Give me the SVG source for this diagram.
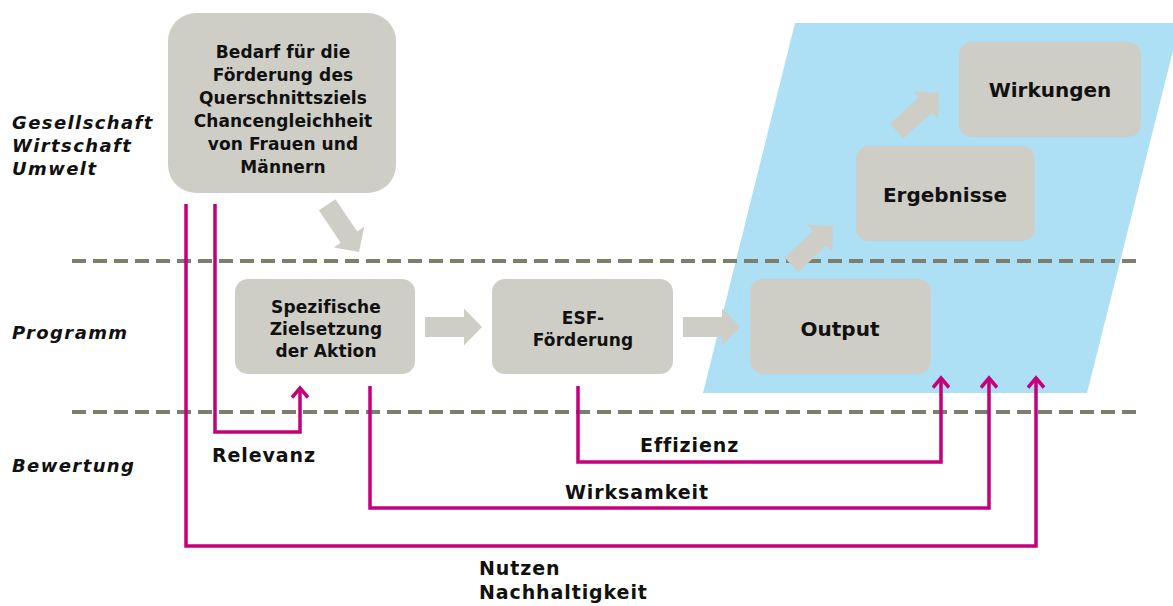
<svg xmlns="http://www.w3.org/2000/svg" width="1173" height="606" viewBox="0 0 1173 606">
<style>
.box{fill:#cfcec6}
.t{font-family:"DejaVu Sans",Verdana,sans-serif;font-weight:bold;fill:#111;text-anchor:middle}
.s{font-size:17px;letter-spacing:0.1px}
.b{font-size:20px}
.lab{font-family:"DejaVu Sans",Verdana,sans-serif;font-weight:bold;font-size:19px;letter-spacing:0.9px;fill:#111}
.side{font-family:"DejaVu Sans",Verdana,sans-serif;font-weight:bold;font-style:italic;font-size:18px;letter-spacing:1.4px;fill:#111}
.dash{stroke:#7f7e6e;stroke-width:4;stroke-dasharray:14 7;fill:none}
.m{stroke:#c4007a;stroke-width:3.5;fill:none;marker-end:url(#ah)}
.ba{fill:#cfcec6}
</style>
<defs>
<marker id="ah" markerUnits="userSpaceOnUse" markerWidth="16" markerHeight="22" refX="11" refY="9" orient="auto" viewBox="0 0 16 22">
<path d="M1.5,1 L11,9 L1.5,17" fill="none" stroke="#c4007a" stroke-width="3.5"/>
</marker>
<path id="blk" d="M-57,-10 H-18 V-18.5 L0,0 L-18,18.5 V10 H-57 Z"/>
</defs>
<polygon points="795,23 1180,23 1087,393 703,393" fill="#addff5"/>
<g id="lines">
<line class="dash" x1="72" y1="261" x2="1140" y2="261"/>
<line class="dash" x1="72" y1="412" x2="1140" y2="412"/>
</g>
<g id="side-labels">
<text class="side" x="12" y="129">Gesellschaft</text>
<text class="side" x="12" y="152">Wirtschaft</text>
<text class="side" x="12" y="175">Umwelt</text>
<text class="side" x="12" y="339">Programm</text>
<text class="side" x="12" y="472">Bewertung</text>
</g>
<g id="node-bedarf">
<rect class="box" x="168" y="13" width="228" height="180" rx="28"/>
<text class="t s" x="283" y="58">Bedarf für die</text>
<text class="t s" x="283" y="81">Förderung des</text>
<text class="t s" x="283" y="104">Querschnittsziels</text>
<text class="t s" x="283" y="127">Chancengleichheit</text>
<text class="t s" x="283" y="150">von Frauen und</text>
<text class="t s" x="283" y="173">Männern</text>
</g>
<g id="node-spez">
<rect class="box" x="235" y="279" width="180" height="95" rx="13"/>
<text class="t s" x="326" y="313">Spezifische</text>
<text class="t s" x="326" y="335">Zielsetzung</text>
<text class="t s" x="326" y="357">der Aktion</text>
</g>
<g id="node-esf">
<rect class="box" x="492" y="279" width="181" height="95" rx="13"/>
<text class="t s" x="583" y="324">ESF-</text>
<text class="t s" x="583" y="346">Förderung</text>
</g>
<g id="node-output">
<rect class="box" x="750" y="279" width="181" height="95" rx="13"/>
<text class="t b" x="840" y="336">Output</text>
</g>
<g id="node-ergebnisse">
<rect class="box" x="856" y="146" width="179" height="95" rx="13"/>
<text class="t b" x="945" y="202">Ergebnisse</text>
</g>
<g id="node-wirkungen">
<rect class="box" x="959" y="42" width="182" height="95" rx="13"/>
<text class="t b" x="1050" y="97">Wirkungen</text>
</g>
<g id="connectors">
<use href="#blk" class="ba" transform="translate(359,252) rotate(56)"/>
<use href="#blk" class="ba" transform="translate(482,327)"/>
<use href="#blk" class="ba" transform="translate(740,327)"/>
<use href="#blk" class="ba" transform="translate(833,226) rotate(-43)"/>
<use href="#blk" class="ba" transform="translate(939,93) rotate(-42)"/>
<path class="m" d="M215,204 V432 H300 V388"/>
<path class="m" d="M578,386 V462 H941 V378"/>
<path class="m" d="M370,386 V508 H989 V378"/>
<path class="m" d="M186,204 V546 H1036 V378"/>
</g>
<g id="connector-labels">
<text class="lab" x="212" y="462">Relevanz</text>
<text class="lab" x="640" y="452">Effizienz</text>
<text class="lab" x="565" y="499">Wirksamkeit</text>
<text class="lab" x="479" y="575">Nutzen</text>
<text class="lab" x="479" y="599">Nachhaltigkeit</text>
</g>
</svg>
